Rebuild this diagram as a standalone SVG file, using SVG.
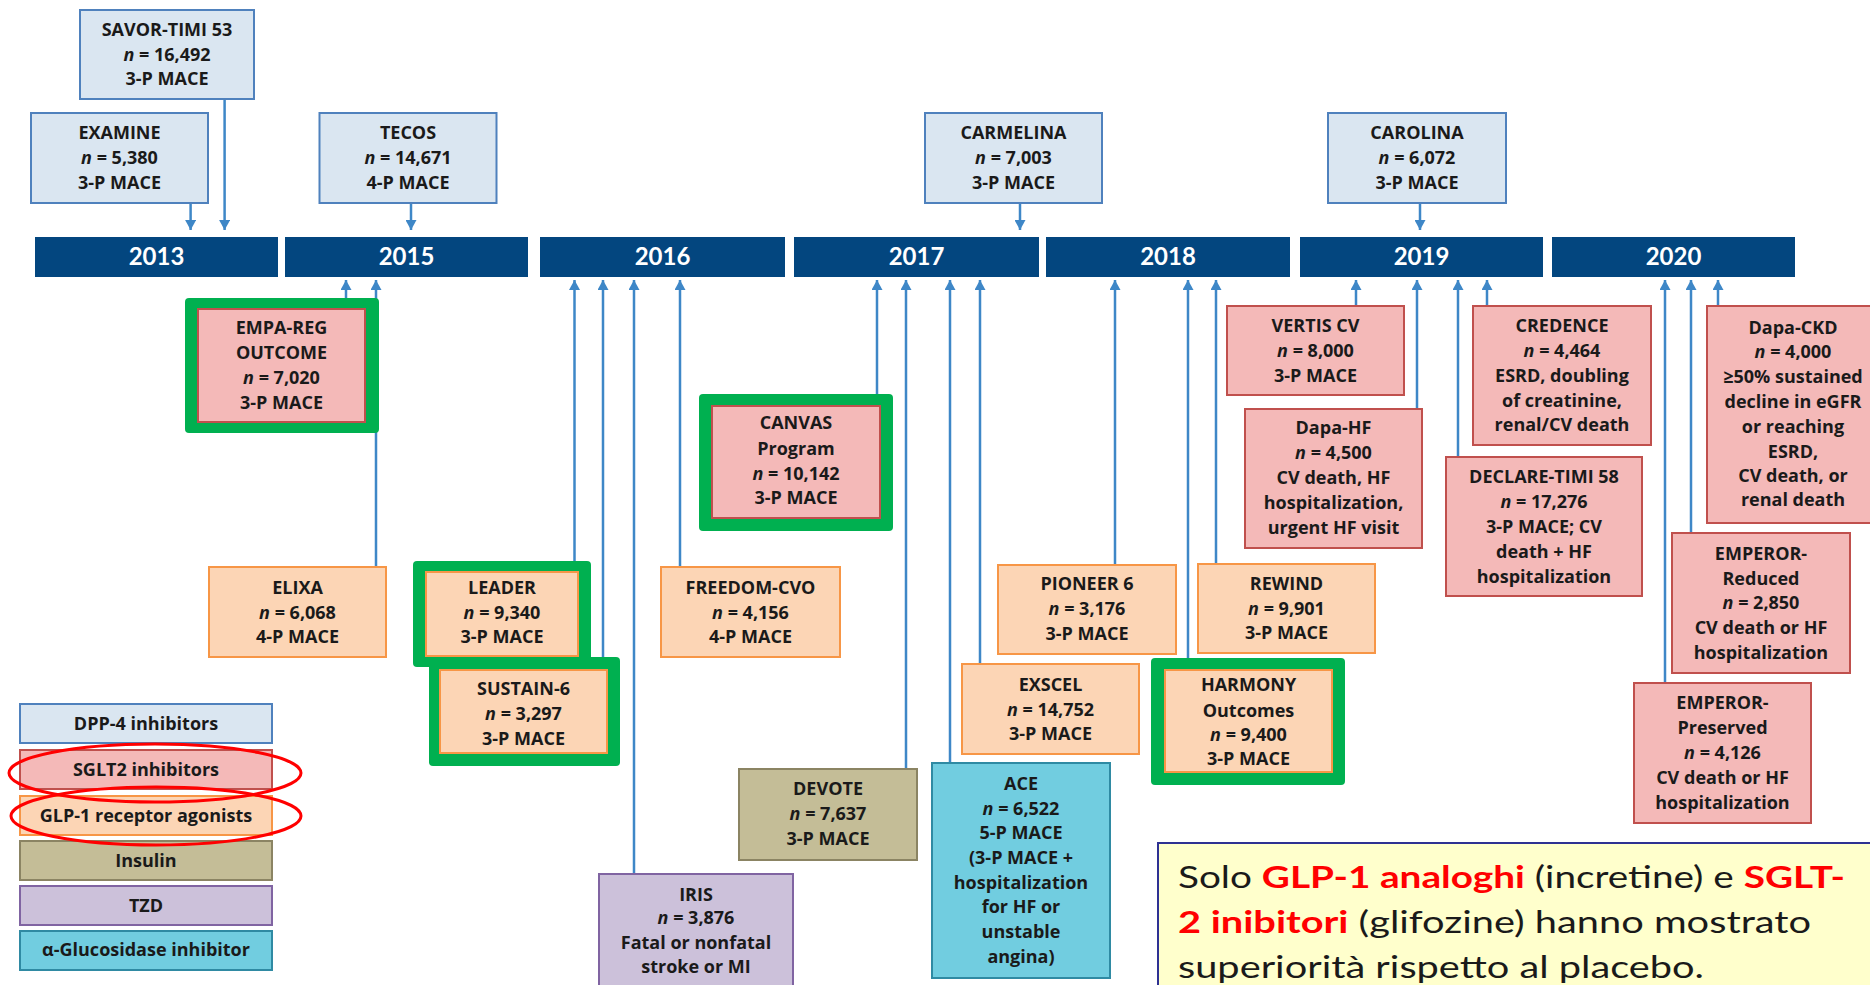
<svg xmlns="http://www.w3.org/2000/svg" width="1870" height="985" viewBox="0 0 1870 985">
<style>
.bar{fill:#03467F}
.yr{font-family:Lato,"Liberation Sans",sans-serif;font-weight:bold;font-size:24px;fill:#FFFFFF;text-anchor:middle}
.conn line{stroke:#3E87C7;stroke-width:2.5;fill:none}
.dn{marker-end:url(#ah)}
.dpp{fill:#DAE6F1;stroke:#4F81BD;stroke-width:2}
.sglt{fill:#F4B9B8;stroke:#C0504D;stroke-width:2}
.glp{fill:#FCD5B5;stroke:#F79646;stroke-width:2}
.ins{fill:#C4BD97;stroke:#8B8463;stroke-width:2}
.tzd{fill:#CCC1DA;stroke:#8064A2;stroke-width:2}
.agi{fill:#71CDE0;stroke:#2F8AA3;stroke-width:2}
.hl{fill:#00B050}
.t{font-family:"Open Sans",Lato,"Liberation Sans",sans-serif;font-weight:bold;font-size:18px;fill:#1A1A1A;text-anchor:middle}
.i{font-style:italic}
.ell{fill:none;stroke:#FF0000;stroke-width:3}
.note{font-family:Lato,"Liberation Sans",sans-serif;font-size:31px;fill:#1A1A1A}
.red{fill:#FF0000;font-weight:bold}
</style>
<defs>
<marker id="ah" markerUnits="userSpaceOnUse" markerWidth="11" markerHeight="11" refX="10" refY="5.5" orient="auto">
<path d="M0,0 L10,5.5 L0,11 z" fill="#3E87C7"/>
</marker>
</defs>
<rect width="1870" height="985" fill="#FFFFFF"/>

<g id="timeline">
<rect class="bar" x="35" y="237" width="243" height="40"/><text class="yr" x="156.5" y="265">2013</text>
<rect class="bar" x="285" y="237" width="243" height="40"/><text class="yr" x="406.5" y="265">2015</text>
<rect class="bar" x="540" y="237" width="245" height="40"/><text class="yr" x="662.5" y="265">2016</text>
<rect class="bar" x="794" y="237" width="245" height="40"/><text class="yr" x="916.5" y="265">2017</text>
<rect class="bar" x="1046" y="237" width="244" height="40"/><text class="yr" x="1168" y="265">2018</text>
<rect class="bar" x="1300" y="237" width="243" height="40"/><text class="yr" x="1421.5" y="265">2019</text>
<rect class="bar" x="1552" y="237" width="243" height="40"/><text class="yr" x="1673.5" y="265">2020</text>
</g>

<g id="connectors" class="conn">
<line class="dn" x1="190.6" y1="203" x2="190.6" y2="230"/>
<line class="dn" x1="224.6" y1="99" x2="224.6" y2="230"/>
<line class="dn" x1="411" y1="203" x2="411" y2="230"/>
<line class="dn" x1="1020" y1="203" x2="1020" y2="230"/>
<line class="dn" x1="1420" y1="203" x2="1420" y2="230"/>
<line class="dn" x1="346" y1="298" x2="346" y2="280"/>
<line class="dn" x1="376" y1="567" x2="376" y2="280"/>
<line class="dn" x1="574.5" y1="561" x2="574.5" y2="280"/>
<line class="dn" x1="603" y1="657" x2="603" y2="280"/>
<line class="dn" x1="634" y1="874" x2="634" y2="280"/>
<line class="dn" x1="680" y1="567" x2="680" y2="280"/>
<line class="dn" x1="877" y1="394" x2="877" y2="280"/>
<line class="dn" x1="906" y1="769" x2="906" y2="280"/>
<line class="dn" x1="950" y1="763" x2="950" y2="280"/>
<line class="dn" x1="980" y1="664" x2="980" y2="280"/>
<line class="dn" x1="1115" y1="565" x2="1115" y2="280"/>
<line class="dn" x1="1188" y1="658" x2="1188" y2="280"/>
<line class="dn" x1="1216" y1="564" x2="1216" y2="280"/>
<line class="dn" x1="1356" y1="306" x2="1356" y2="280"/>
<line class="dn" x1="1417" y1="409" x2="1417" y2="280"/>
<line class="dn" x1="1458" y1="457" x2="1458" y2="280"/>
<line class="dn" x1="1487" y1="306" x2="1487" y2="280"/>
<line class="dn" x1="1665" y1="683" x2="1665" y2="280"/>
<line class="dn" x1="1691" y1="533" x2="1691" y2="280"/>
<line class="dn" x1="1718" y1="306" x2="1718" y2="280"/>
</g>

<g id="savor"><rect class="dpp" x="80" y="10" width="174" height="89"/>
<text class="t" x="167" y="36">SAVOR-TIMI 53</text><text class="t" x="167" y="60.5"><tspan class="i">n</tspan> = 16,492</text><text class="t" x="167" y="85">3-P MACE</text></g>
<g id="examine"><rect class="dpp" x="31" y="113" width="177" height="90"/>
<text class="t" x="119.5" y="139">EXAMINE</text><text class="t" x="119.5" y="164"><tspan class="i">n</tspan> = 5,380</text><text class="t" x="119.5" y="189">3-P MACE</text></g>
<g id="tecos"><rect class="dpp" x="319.5" y="113" width="177" height="90"/>
<text class="t" x="408" y="139">TECOS</text><text class="t" x="408" y="164"><tspan class="i">n</tspan> = 14,671</text><text class="t" x="408" y="189">4-P MACE</text></g>
<g id="carmelina"><rect class="dpp" x="925" y="113" width="177" height="90"/>
<text class="t" x="1013.5" y="139">CARMELINA</text><text class="t" x="1013.5" y="164"><tspan class="i">n</tspan> = 7,003</text><text class="t" x="1013.5" y="189">3-P MACE</text></g>
<g id="carolina"><rect class="dpp" x="1328" y="113" width="178" height="90"/>
<text class="t" x="1417" y="139">CAROLINA</text><text class="t" x="1417" y="164"><tspan class="i">n</tspan> = 6,072</text><text class="t" x="1417" y="189">3-P MACE</text></g>

<g id="empareg"><rect class="hl" x="185" y="298" width="194" height="135" rx="4"/><rect class="sglt" x="198" y="309" width="167" height="113"/>
<text class="t" x="281.5" y="334">EMPA-REG</text><text class="t" x="281.5" y="359">OUTCOME</text><text class="t" x="281.5" y="384"><tspan class="i">n</tspan> = 7,020</text><text class="t" x="281.5" y="409">3-P MACE</text></g>
<g id="elixa"><rect class="glp" x="209" y="567" width="177" height="90"/>
<text class="t" x="297.5" y="594">ELIXA</text><text class="t" x="297.5" y="619"><tspan class="i">n</tspan> = 6,068</text><text class="t" x="297.5" y="643">4-P MACE</text></g>
<g id="leader"><rect class="hl" x="413" y="561" width="178" height="106" rx="4"/><rect class="glp" x="426" y="572" width="152" height="84"/>
<text class="t" x="502" y="594">LEADER</text><text class="t" x="502" y="619"><tspan class="i">n</tspan> = 9,340</text><text class="t" x="502" y="643">3-P MACE</text></g>
<g id="sustain6"><rect class="hl" x="429" y="657" width="191" height="109" rx="4"/><rect class="glp" x="440" y="670" width="167" height="83"/>
<text class="t" x="523.5" y="695">SUSTAIN-6</text><text class="t" x="523.5" y="720"><tspan class="i">n</tspan> = 3,297</text><text class="t" x="523.5" y="745">3-P MACE</text></g>
<g id="canvas"><rect class="hl" x="699" y="394" width="194" height="137" rx="4"/><rect class="sglt" x="712" y="406" width="168" height="112"/>
<text class="t" x="796" y="429">CANVAS</text><text class="t" x="796" y="455">Program</text><text class="t" x="796" y="480"><tspan class="i">n</tspan> = 10,142</text><text class="t" x="796" y="504">3-P MACE</text></g>
<g id="freedom"><rect class="glp" x="661" y="567" width="179" height="90"/>
<text class="t" x="750.5" y="594">FREEDOM-CVO</text><text class="t" x="750.5" y="619"><tspan class="i">n</tspan> = 4,156</text><text class="t" x="750.5" y="643">4-P MACE</text></g>
<g id="iris"><rect class="tzd" x="599" y="874" width="194" height="125"/>
<text class="t" x="696" y="901">IRIS</text><text class="t" x="696" y="924"><tspan class="i">n</tspan> = 3,876</text><text class="t" x="696" y="949">Fatal or nonfatal</text><text class="t" x="696" y="973">stroke or MI</text></g>
<g id="devote"><rect class="ins" x="739" y="769" width="178" height="91"/>
<text class="t" x="828" y="795">DEVOTE</text><text class="t" x="828" y="820"><tspan class="i">n</tspan> = 7,637</text><text class="t" x="828" y="845">3-P MACE</text></g>
<g id="ace"><rect class="agi" x="932" y="763" width="178" height="215"/>
<text class="t" x="1021" y="790">ACE</text><text class="t" x="1021" y="815"><tspan class="i">n</tspan> = 6,522</text><text class="t" x="1021" y="839">5-P MACE</text><text class="t" x="1021" y="864">(3-P MACE +</text><text class="t" x="1021" y="889">hospitalization</text><text class="t" x="1021" y="913">for HF or</text><text class="t" x="1021" y="938">unstable</text><text class="t" x="1021" y="963">angina)</text></g>
<g id="exscel"><rect class="glp" x="962" y="664" width="177" height="90"/>
<text class="t" x="1050.5" y="691">EXSCEL</text><text class="t" x="1050.5" y="716"><tspan class="i">n</tspan> = 14,752</text><text class="t" x="1050.5" y="740">3-P MACE</text></g>
<g id="pioneer6"><rect class="glp" x="998" y="565" width="178" height="89"/>
<text class="t" x="1087" y="590">PIONEER 6</text><text class="t" x="1087" y="615"><tspan class="i">n</tspan> = 3,176</text><text class="t" x="1087" y="640">3-P MACE</text></g>
<g id="rewind"><rect class="glp" x="1198" y="564" width="177" height="89"/>
<text class="t" x="1286.5" y="590">REWIND</text><text class="t" x="1286.5" y="615"><tspan class="i">n</tspan> = 9,901</text><text class="t" x="1286.5" y="639">3-P MACE</text></g>
<g id="harmony"><rect class="hl" x="1151" y="658" width="194" height="127" rx="4"/><rect class="glp" x="1165" y="670" width="167" height="102"/>
<text class="t" x="1248.5" y="691">HARMONY</text><text class="t" x="1248.5" y="717">Outcomes</text><text class="t" x="1248.5" y="741"><tspan class="i">n</tspan> = 9,400</text><text class="t" x="1248.5" y="765">3-P MACE</text></g>
<g id="vertis"><rect class="sglt" x="1227" y="306" width="177" height="89"/>
<text class="t" x="1315.5" y="332">VERTIS CV</text><text class="t" x="1315.5" y="357"><tspan class="i">n</tspan> = 8,000</text><text class="t" x="1315.5" y="382">3-P MACE</text></g>
<g id="dapahf"><rect class="sglt" x="1245" y="409" width="177" height="139"/>
<text class="t" x="1333.5" y="434">Dapa-HF</text><text class="t" x="1333.5" y="459"><tspan class="i">n</tspan> = 4,500</text><text class="t" x="1333.5" y="484">CV death, HF</text><text class="t" x="1333.5" y="509">hospitalization,</text><text class="t" x="1333.5" y="534">urgent HF visit</text></g>
<g id="credence"><rect class="sglt" x="1473" y="306" width="178" height="139"/>
<text class="t" x="1562" y="332">CREDENCE</text><text class="t" x="1562" y="357"><tspan class="i">n</tspan> = 4,464</text><text class="t" x="1562" y="382">ESRD, doubling</text><text class="t" x="1562" y="407">of creatinine,</text><text class="t" x="1562" y="431">renal/CV death</text></g>
<g id="declare"><rect class="sglt" x="1446" y="457" width="196" height="139"/>
<text class="t" x="1544" y="483">DECLARE-TIMI 58</text><text class="t" x="1544" y="508"><tspan class="i">n</tspan> = 17,276</text><text class="t" x="1544" y="533">3-P MACE; CV</text><text class="t" x="1544" y="558">death + HF</text><text class="t" x="1544" y="583">hospitalization</text></g>
<g id="dapackd"><rect class="sglt" x="1707" y="306" width="175" height="217"/>
<text class="t" x="1793" y="334">Dapa-CKD</text><text class="t" x="1793" y="358"><tspan class="i">n</tspan> = 4,000</text><text class="t" x="1793" y="383">≥50% sustained</text><text class="t" x="1793" y="408">decline in eGFR</text><text class="t" x="1793" y="433">or reaching</text><text class="t" x="1793" y="458">ESRD,</text><text class="t" x="1793" y="482">CV death, or</text><text class="t" x="1793" y="506">renal death</text></g>
<g id="emperor-reduced"><rect class="sglt" x="1672" y="533" width="178" height="140"/>
<text class="t" x="1761" y="560">EMPEROR-</text><text class="t" x="1761" y="585">Reduced</text><text class="t" x="1761" y="609"><tspan class="i">n</tspan> = 2,850</text><text class="t" x="1761" y="634">CV death or HF</text><text class="t" x="1761" y="659">hospitalization</text></g>
<g id="emperor-preserved"><rect class="sglt" x="1634" y="683" width="177" height="140"/>
<text class="t" x="1722.5" y="709">EMPEROR-</text><text class="t" x="1722.5" y="734">Preserved</text><text class="t" x="1722.5" y="759"><tspan class="i">n</tspan> = 4,126</text><text class="t" x="1722.5" y="784">CV death or HF</text><text class="t" x="1722.5" y="809">hospitalization</text></g>

<g id="legend">
<rect class="dpp" x="20" y="704" width="252" height="39"/><text class="t" x="146" y="730">DPP-4 inhibitors</text>
<rect class="sglt" x="20" y="750" width="252" height="39"/><text class="t" x="146" y="776">SGLT2 inhibitors</text>
<rect class="glp" x="20" y="796" width="252" height="39"/><text class="t" x="146" y="822">GLP-1 receptor agonists</text>
<rect class="ins" x="20" y="841" width="252" height="39"/><text class="t" x="146" y="867">Insulin</text>
<rect class="tzd" x="20" y="886" width="252" height="39"/><text class="t" x="146" y="912">TZD</text>
<rect class="agi" x="20" y="931" width="252" height="39"/><text class="t" x="146" y="956">α-Glucosidase inhibitor</text>
<ellipse class="ell" cx="155" cy="773" rx="146" ry="29"/>
<ellipse class="ell" cx="156" cy="816" rx="145" ry="29"/>
</g>

<g id="note">
<rect x="1158" y="843" width="730" height="160" fill="#FFFFCC" stroke="#2E3192" stroke-width="2"/>
<text class="note" x="1178" y="888" textLength="667" lengthAdjust="spacingAndGlyphs">Solo <tspan class="red">GLP-1 analoghi</tspan> (incretine) e <tspan class="red">SGLT-</tspan></text>
<text class="note" x="1178" y="933" textLength="633" lengthAdjust="spacingAndGlyphs"><tspan class="red">2 inibitori</tspan> (glifozine) hanno mostrato</text>
<text class="note" x="1178" y="978" textLength="526" lengthAdjust="spacingAndGlyphs">superiorità rispetto al placebo.</text>
</g>
</svg>
